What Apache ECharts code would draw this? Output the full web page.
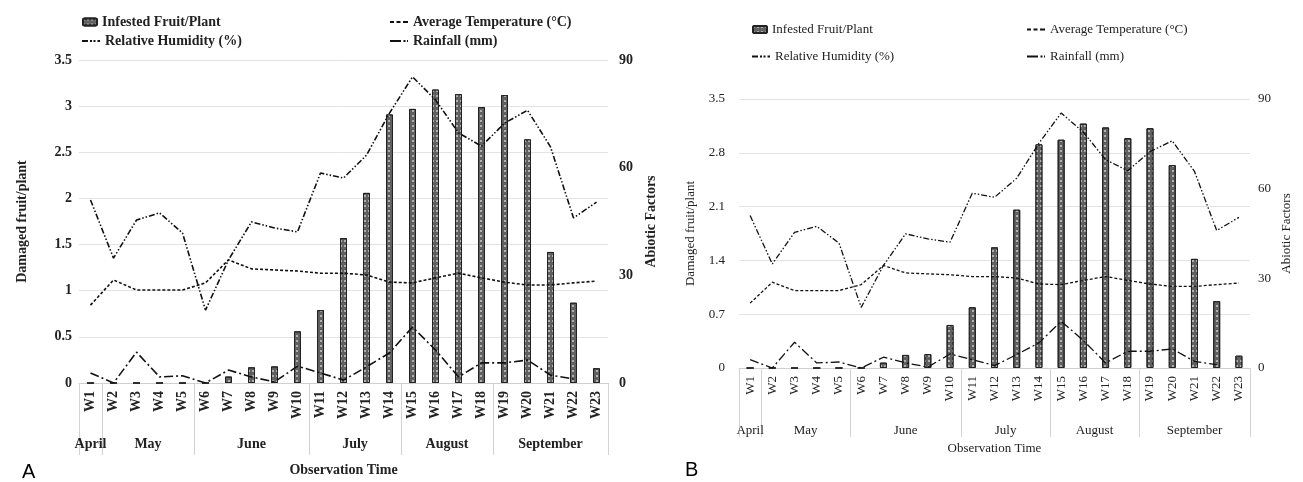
<!DOCTYPE html>
<html>
<head>
<meta charset="utf-8">
<script src="https://cdn.jsdelivr.net/npm/echarts@6/dist/echarts.min.js"></script>
<style>
  html, body { margin: 0; padding: 0; background: #fff; }
  #chart { width: 1303px; height: 482px; }
</style>
</head>
<body>
<div id="chart"></div>
<script>
// weekly observations (same data in both panels)
const weeks = ['W1', 'W2', 'W3', 'W4', 'W5', 'W6', 'W7', 'W8', 'W9', 'W10', 'W11', 'W12',
  'W13', 'W14', 'W15', 'W16', 'W17', 'W18', 'W19', 'W20', 'W21', 'W22', 'W23'];
const infested = [0, 0, 0, 0, 0, 0, 0.07, 0.17, 0.18, 0.56, 0.79, 1.57,
  2.06, 2.91, 2.97, 3.18, 3.13, 2.99, 3.12, 2.64, 1.42, 0.87, 0.16];
const temperature = [21.7, 28.7, 25.9, 25.9, 25.9, 27.9, 34.3, 31.8, 31.5, 31.2, 30.6, 30.6,
  30.1, 28.1, 27.9, 29.3, 30.6, 29.3, 28.1, 27.3, 27.3, 27.9, 28.4];
const humidity = [51.0, 34.8, 45.4, 47.4, 41.8, 20.3, 34.3, 44.9, 43.2, 42.1, 58.5, 57.1,
  63.5, 75.2, 85.3, 78.9, 69.7, 66.0, 72.4, 76.0, 65.8, 46.0, 50.4];
const rainfall = [2.8, 0, 8.6, 1.7, 2.0, 0, 3.6, 1.7, 0.3, 4.7, 2.8, 0.8,
  4.5, 8.4, 15.6, 9.2, 1.7, 5.6, 5.6, 6.4, 2.2, 1.1, null];
const months = ['April', 'May', 'June', 'July', 'August', 'September'];
const weeksPerMonth = [1, 4, 5, 4, 4, 5];

// month group boundaries (in weeks) and centres
const boundaries = [0];
weeksPerMonth.forEach(n => boundaries.push(boundaries[boundaries.length - 1] + n));
const monthCenters = weeksPerMonth.map((n, i) => boundaries[i] + n / 2);

const NAMES = {
  bar: 'Infested Fruit/Plant',
  temp: 'Average Temperature (\u00B0C)',
  rh: 'Relative Humidity (%)',
  rain: 'Rainfall (mm)'
};

// dashed legend keys (18 x 2 boxes)
const ICONS = {};
ICONS[NAMES.temp] = 'path://M0,0h4v2h-4zM6.5,0h4v2h-4zM13,0h5v2h-5z';
ICONS[NAMES.rh] = 'path://M0,0h6v2h-6zM8,0h2v2h-2zM11.5,0h2v2h-2zM15.5,0h2.5v2h-2.5z';
ICONS[NAMES.rain] = 'path://M0,0h11v2h-11zM13.5,0h2v2h-2zM17,0h1v2h-1z';

const chart = echarts.init(document.getElementById('chart'));

function panel(p) {
  const xi = p.idx * 2, yi = p.idx * 2;
  const font = { fontFamily: 'Liberation Serif', fontWeight: p.weight, fontSize: p.size, color: '#222' };
  const xAxis = [
    {
      type: 'category', gridIndex: p.idx, data: weeks,
      axisLine: { lineStyle: { color: '#d0d0d0' } },
      axisTick: {
        show: true, inside: false, length: p.sepLen, lineStyle: { color: '#d3d3d3', width: 1 },
        interval: (i) => boundaries.indexOf(i) >= 0
      },
      axisLabel: Object.assign({ interval: 0, rotate: 90, margin: 8 }, font)
    },
    {
      type: 'value', gridIndex: p.idx, position: 'bottom',
      min: 0, max: weeks.length, interval: 0.5, offset: p.monthOffset,
      axisLine: { show: false }, axisTick: { show: false }, splitLine: { show: false },
      axisLabel: Object.assign({
        margin: 0,
        formatter: v => { const k = monthCenters.indexOf(v); return k >= 0 ? months[k] : ''; }
      }, font),
      name: 'Observation Time', nameLocation: 'middle', nameGap: p.nameGapX,
      nameTextStyle: font
    }
  ];
  const yAxis = [
    {
      type: 'value', gridIndex: p.idx, min: 0, max: 3.5, interval: p.leftStep,
      axisLine: { show: false }, axisTick: { show: false },
      splitLine: { lineStyle: { color: '#e3e3e3' } },
      axisLabel: Object.assign({ margin: p.leftMargin, formatter: v => String(+v.toFixed(1)) }, font),
      name: 'Damaged fruit/plant', nameLocation: 'middle', nameRotate: 90, nameGap: p.nameGapL,
      nameTextStyle: font
    },
    {
      type: 'value', gridIndex: p.idx, position: 'right', min: 0, max: 90, interval: 30,
      axisLine: { show: false }, axisTick: { show: false }, splitLine: { show: false },
      axisLabel: Object.assign({ margin: p.rightMargin }, font),
      name: 'Abiotic Factors', nameLocation: 'middle', nameRotate: 90, nameGap: p.nameGapR,
      nameTextStyle: font
    }
  ];
  const lineBase = (name, data, dash) => ({
    name, type: 'line', data, xAxisIndex: xi, yAxisIndex: yi + 1,
    symbol: 'none', connectNulls: false,
    lineStyle: { color: '#111', width: p.lineW, type: dash },
    itemStyle: { color: '#111' }
  });
  const series = [
    {
      name: NAMES.bar, type: 'bar', data: infested, xAxisIndex: xi, yAxisIndex: yi,
      barWidth: 7,
      itemStyle: {
        color: '#606060', borderColor: '#222', borderWidth: 1,
        decal: {
          symbol: 'rect', symbolSize: 1, color: 'rgba(255,255,255,0.5)',
          dashArrayX: [2, 2], dashArrayY: [2, 3], rotation: 0
        }
      }
    },
    lineBase(NAMES.temp, temperature, [3, 2]),
    lineBase(NAMES.rh, humidity, [6, 2, 1.5, 2, 1.5, 2]),
    lineBase(NAMES.rain, rainfall, [9, 3, 2, 3])
  ];
  const legend = p.legendPos.map(([name, left, top]) => {
    const isBar = name === NAMES.bar;
    return {
      data: [isBar ? { name } : { name, icon: ICONS[name] }],
      left, top, padding: 0, itemWidth: isBar ? 14 : 18, itemHeight: isBar ? 7 : 2,
      selectedMode: false, textStyle: font
    };
  });
  return { xAxis, yAxis, series, legend };
}

const A = panel({
  idx: 0, weight: 'bold', size: 14, sepLen: 72, monthOffset: 54, nameGapX: 26,
  leftStep: 0.5, leftMargin: 7, rightMargin: 11, nameGapL: 50, nameGapR: 36, lineW: 1.6,
  legendPos: [[NAMES.bar, 82, 15], [NAMES.rh, 82, 34], [NAMES.temp, 390, 15], [NAMES.rain, 390, 34]]
});
const B = panel({
  idx: 1, weight: 'normal', size: 13, sepLen: 69, monthOffset: 56, nameGapX: 13,
  leftStep: 0.7, leftMargin: 14, rightMargin: 8, nameGapL: 42, nameGapR: 30, lineW: 1.3,
  legendPos: [[NAMES.bar, 752, 23], [NAMES.rh, 752, 50], [NAMES.temp, 1027, 23], [NAMES.rain, 1027, 50]]
});

chart.setOption({
  backgroundColor: '#fff',
  animation: false,
  title: [
    { text: 'A', left: 22, top: 462, padding: 0, textStyle: { fontFamily: 'Liberation Sans', fontSize: 20, fontWeight: 'normal', color: '#000' } },
    { text: 'B', left: 685, top: 460, padding: 0, textStyle: { fontFamily: 'Liberation Sans', fontSize: 20, fontWeight: 'normal', color: '#000' } }
  ],
  grid: [
    { left: 79, top: 60, width: 529, height: 323 },
    { left: 739, top: 99, width: 511, height: 269 }
  ],
  legend: A.legend.concat(B.legend),
  xAxis: A.xAxis.concat(B.xAxis),
  yAxis: A.yAxis.concat(B.yAxis),
  series: A.series.concat(B.series)
});
</script>
</body>
</html>
